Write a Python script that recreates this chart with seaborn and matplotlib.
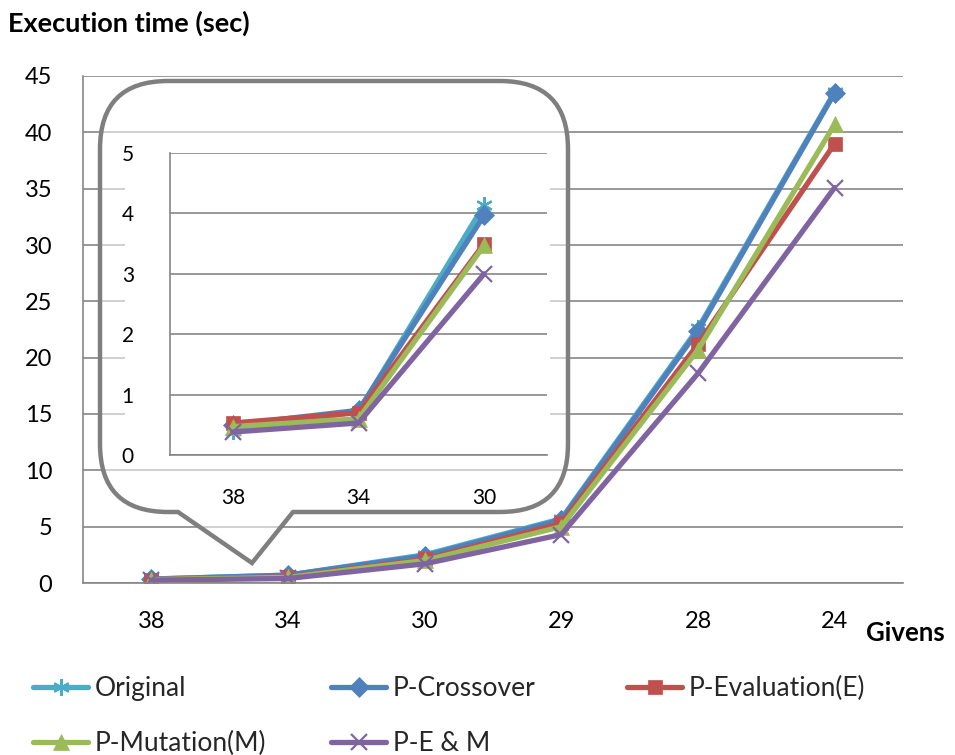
import matplotlib
matplotlib.use("Agg")
import matplotlib.pyplot as plt
import seaborn as sns
from matplotlib.patches import Rectangle, PathPatch
from matplotlib.path import Path

# ---- data (main chart) ----
categories = ["38", "34", "30", "29", "28", "24"]
series_names = ["Original", "P-Crossover", "P-Evaluation(E)", "P-Mutation(M)", "P-E & M"]
original = [0.35, 0.70, 2.5, 5.7, 22.6, 43.6]
crossover = [0.35, 0.70, 2.4, 5.6, 22.4, 43.5]
evaluation = [0.30, 0.55, 2.1, 5.3, 21.2, 39.0]
mutation = [0.30, 0.50, 2.0, 5.0, 20.7, 40.7]
e_and_m = [0.25, 0.40, 1.7, 4.3, 18.6, 35.1]
main_yticks = [0, 5, 10, 15, 20, 25, 30, 35, 40, 45]

# ---- data (inset chart) ----
inset_categories = ["38", "34", "30"]
inset_original = [0.40, 0.72, 4.14]
inset_crossover = [0.50, 0.74, 3.97]
inset_evaluation = [0.53, 0.70, 3.50]
inset_mutation = [0.47, 0.60, 3.47]
inset_e_and_m = [0.38, 0.53, 3.00]
inset_yticks = [0, 1, 2, 3, 4, 5]

main_values = [original, crossover, evaluation, mutation, e_and_m]
inset_values = [inset_original, inset_crossover, inset_evaluation, inset_mutation, inset_e_and_m]
colors = ["#4BACC6", "#4F81BD", "#C0504D", "#9BBB59", "#8064A2"]
markers = [(6, 2, 0), "D", "s", "^", "x"]
msizes = [12, 10, 10, 11, 12]

sns.set_theme(style="white")
plt.rcParams['font.family'] = ['Lato', 'DejaVu Sans']

W, H = 955, 755
fig = plt.figure(figsize=(9.55, 7.55), dpi=100)


def fx(px):
    return px / W


def fy(py):
    return 1 - py / H


GRID = "#868686"


def style_axes(a, ymax, yticks, labels, fs, xpad, ypad):
    ncat = len(labels)
    a.set_ylim(0, ymax)
    a.set_yticks(yticks)
    a.set_xlim(-0.5, ncat - 0.5)
    a.set_xticks(range(ncat))
    a.set_xticklabels(labels)
    a.set_xticks([i - 0.5 for i in range(ncat + 1)], minor=True)
    a.tick_params(axis="x", which="major", length=0, pad=xpad, labelsize=fs, labelcolor="black")
    a.tick_params(axis="x", which="minor", length=8, width=1.2, color=GRID, direction="out")
    a.tick_params(axis="y", which="major", length=8, width=1.2, color=GRID, direction="out",
                  labelsize=fs, labelcolor="black", pad=ypad)
    a.grid(axis="y", color=GRID, linewidth=1.2)
    a.grid(axis="x", visible=False)
    for s in ["top", "right"]:
        a.spines[s].set_visible(False)
    for s in ["left", "bottom"]:
        a.spines[s].set_color(GRID)
        a.spines[s].set_linewidth(1.2)
    a.set_xlabel("")
    a.set_ylabel("")
    a.set_axisbelow(True)


def draw_series(a, cats, values):
    for name, vals, c, m, ms in zip(series_names, values, colors, markers, msizes):
        mew = 1.6 if m in ["x", (6, 2, 0)] else 0.5
        sns.lineplot(x=cats, y=vals, ax=a, color=c, marker=m, markersize=ms,
                     markeredgecolor=c, markeredgewidth=mew, linewidth=3.8, sort=False,
                     label=name, legend=False)


# ---- main axes ----
ax = fig.add_axes([fx(83), fy(583), fx(903) - fx(83), fy(76) - fy(583)])
ax.set_zorder(0)
draw_series(ax, categories, main_values)
style_axes(ax, 45, main_yticks, categories, 17, 20, 14)

# ---- callout bubble ----
r = 68
L, R, T, B = 100, 568, 81, 512
pts = [(L + r, T), (R - r, T), (R, T), (R, T + r), (R, B - r), (R, B), (R - r, B),
       (293, B), (252, 563), (178, B), (L + r, B), (L, B), (L, B - r), (L, T + r), (L, T), (L + r, T),
       (L + r, T)]
codes = [Path.MOVETO, Path.LINETO, Path.CURVE3, Path.CURVE3, Path.LINETO, Path.CURVE3, Path.CURVE3,
         Path.LINETO, Path.LINETO, Path.LINETO, Path.LINETO, Path.CURVE3, Path.CURVE3, Path.LINETO,
         Path.CURVE3, Path.CURVE3, Path.CLOSEPOLY]
verts = [(fx(x), fy(y)) for x, y in pts]
bubble = PathPatch(Path(verts, codes), transform=fig.transFigure, facecolor=(1, 1, 1, 0.55),
                   edgecolor="#7f7f7f", linewidth=3.2, zorder=1)
fig.add_artist(bubble)
white = Rectangle((fx(125), fy(468)), fx(550) - fx(125), fy(140) - fy(468), transform=fig.transFigure,
                  facecolor="white", edgecolor="none", zorder=1.5)
fig.add_artist(white)

# ---- inset axes ----
axi = fig.add_axes([fx(170), fy(455), fx(547) - fx(170), fy(153) - fy(455)])
axi.set_zorder(2)
axi.set_facecolor("white")
draw_series(axi, inset_categories, inset_values)
style_axes(axi, 5, inset_yticks, inset_categories, 15, 24, 18)

# ---- texts ----
fig.text(fx(8), fy(23), "Execution time (sec)", fontsize=19.5, fontweight="bold", ha="left", va="center",
         color="black")
fig.text(fx(866), fy(633), "Givens", fontsize=18.5, fontweight="bold", ha="left", va="center", color="black")

# ---- legend ----
handles, labels = ax.get_legend_handles_labels()
cols = [([0, 3], 33), ([1, 4], 331), ([2], 627)]
for idx, xpx in cols:
    fig.legend([handles[i] for i in idx], [labels[i] for i in idx], loc="upper left",
               bbox_to_anchor=(fx(xpx), fy(676)), bbox_transform=fig.transFigure,
               frameon=False, fontsize=19, borderpad=0, borderaxespad=0, handlelength=2.1,
               handletextpad=0.25, labelspacing=1.15)

fig.savefig("out.png", dpi=100)
